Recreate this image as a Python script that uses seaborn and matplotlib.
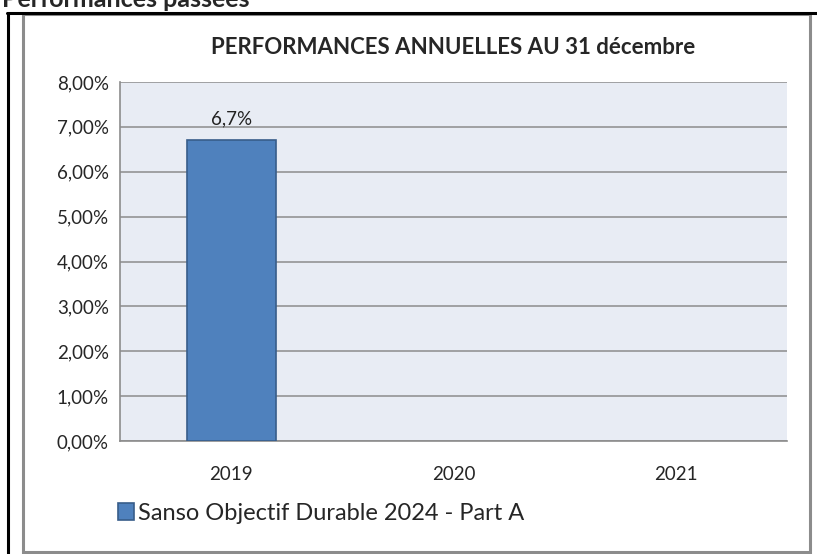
import matplotlib
matplotlib.use("Agg")
import matplotlib.pyplot as plt
import seaborn as sns
import pandas as pd
import numpy as np
from matplotlib.patches import Rectangle
from matplotlib.lines import Line2D

## Data
years = ["2019", "2020", "2021"]
perf = [6.7, np.nan, np.nan]
bar_labels = ["6,7%", "", ""]
yticks = [0, 1, 2, 3, 4, 5, 6, 7, 8]
series_name = "Sanso Objectif Durable 2024 - Part A"

df = pd.DataFrame({"annee": years, "perf": perf})

sns.set_style("white")
plt.rcParams['font.family'] = ['Lato', 'DejaVu Sans']

fig = plt.figure(figsize=(8.17, 5.54), dpi=100)
W, H = 817, 554

# frames around the chart
fig.add_artist(Line2D([7 / W, 1], [1 - 13 / H, 1 - 13 / H], color="black", lw=2.2))
fig.add_artist(Line2D([8 / W, 8 / W], [0, 1 - 13 / H], color="black", lw=2.2))
fig.add_artist(Rectangle((23 / W, 1 - 552 / H), (810 - 23) / W, (552 - 14) / H,
                         fill=False, ec="#8c8c8c", lw=2.2))

fig.text(0.002, 1 - 7 / H, "Performances passées", fontsize=18, fontweight="bold",
         va="baseline", ha="left")

ax = fig.add_axes([120 / W, 1 - 441 / H, (787 - 120) / W, (441 - 82) / H])
ax.set_facecolor("#e8ecf4")

sns.barplot(data=df, x="annee", y="perf", color="#4f81bd", width=0.4,
            edgecolor="#385d8a", linewidth=1.2, saturation=1, ax=ax, zorder=3)

for i, (v, lab) in enumerate(zip(perf, bar_labels)):
    if lab:
        ax.annotate(lab, (i, v), xytext=(0, 9), textcoords="offset points",
                    ha="center", va="bottom", fontsize=13.5, color="#222222")

ax.set_xlim(-0.5, 2.5)
ax.set_ylim(0, 8)
ax.set_yticks(yticks)
ax.set_yticklabels([f"{t:.2f}%".replace(".", ",") for t in yticks], fontsize=13.5)
ax.yaxis.grid(True, color="#8c8c8c", lw=1.1, zorder=0)
ax.set_axisbelow(True)

# category labels without ticks, tick marks on boundaries
ax.set_xticks(range(len(years)))
ax.set_xticklabels(years, fontsize=13.5)
ax.set_xticks([-0.5, 0.5, 1.5, 2.5], minor=True)
ax.tick_params(axis="x", which="major", length=0, pad=18)
ax.tick_params(axis="x", which="minor", length=6, width=1.2, color="#8c8c8c", direction="out")
ax.tick_params(axis="y", length=6, width=1.2, color="#8c8c8c", direction="out", pad=2)
ax.set_xlabel("")
ax.set_ylabel("")

for s in ["top", "right"]:
    ax.spines[s].set_visible(False)
for s in ["left", "bottom"]:
    ax.spines[s].set_color("#8c8c8c")
    ax.spines[s].set_linewidth(1.2)

ax.set_title("PERFORMANCES ANNUELLES AU 31 décembre", fontsize=16, fontweight="bold",
             pad=20)

handle = Rectangle((0, 0), 1, 1, fc="#4f81bd", ec="#385d8a", lw=1.2)
fig.legend([handle], [series_name], loc="center left", bbox_to_anchor=(106 / W, 1 - 513 / H),
           frameon=False, fontsize=17, handlelength=0.7, handleheight=0.7,
           handletextpad=0.15, borderpad=0)

fig.savefig("out.png", dpi=100)
